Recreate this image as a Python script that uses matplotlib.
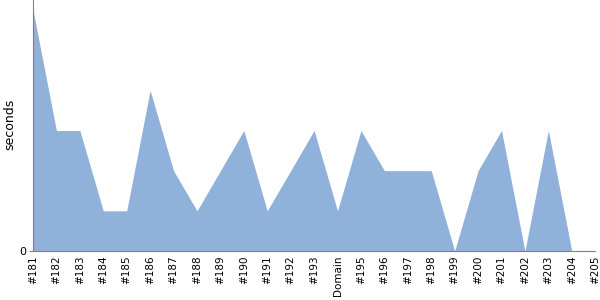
import matplotlib
matplotlib.use("Agg")
import matplotlib.pyplot as plt

categories = ["#181", "#182", "#183", "#184", "#185", "#186", "#187", "#188", "#189",
              "#190", "#191", "#192", "#193", "Domain", "#195", "#196", "#197", "#198",
              "#199", "#200", "#201", "#202", "#203", "#204", "#205"]
seconds = [6, 3, 3, 1, 1, 4, 2, 1, 2, 3, 1, 2, 3, 1, 3, 2, 2, 2, 0, 2, 3, 0, 3, 0, 0]

fig = plt.figure(figsize=(6, 3), dpi=100)
ax = fig.add_axes([0.055, 1 - 251 / 300, 0.937, 251 / 300])
x = list(range(len(categories)))
ax.fill_between(x, seconds, 0, color="#8fb1da", linewidth=0)
ax.set_xlim(0, len(categories) - 1)
ax.set_ylim(0, 6 * 251 / 241)
ax.set_yticks([0])
ax.set_yticklabels(["0"], fontsize=8)
ax.set_xticks(x)
ax.set_xticklabels(categories, rotation=90, fontsize=7.5)
ax.tick_params(axis="x", length=0, pad=3)
ax.tick_params(axis="y", length=3, color="#808080", pad=2)
for s in ["top", "right"]:
    ax.spines[s].set_visible(False)
for s in ["left", "bottom"]:
    ax.spines[s].set_color("#808080")
ax.set_ylabel("seconds", fontsize=9)
ax.yaxis.set_label_coords(-0.029, 0.505)
fig.savefig("out.png", dpi=100)
